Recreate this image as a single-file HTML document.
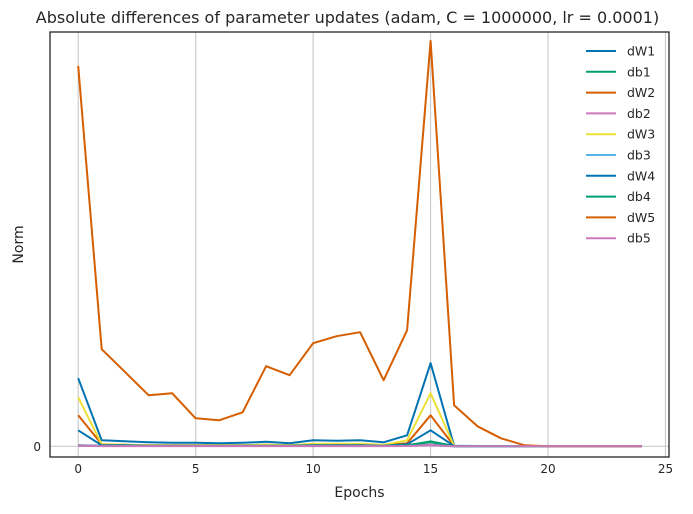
<!DOCTYPE html>
<html><head><meta charset="utf-8"><style>
body{margin:0;background:#fff;font-family:"DejaVu Sans","Liberation Sans",sans-serif}
</style></head><body>
<svg id="chart" width="693" height="510" xmlns="http://www.w3.org/2000/svg" font-family="DejaVu Sans, Liberation Sans, sans-serif"></svg>
<script>
const epochs=[0,1,2,3,4,5,6,7,8,9,10,11,12,13,14,15,16,17,18,19,20,21,22,23,24];
const seriesNames=["dW1","db1","dW2","db2","dW3","db3","dW4","db4","dW5","db5"];
const colors=["#0173b2","#029e73","#d55e00","#cc78bc","#ece133","#56b4e9","#0173b2","#029e73","#d55e00","#cc78bc"];
const dW1=[68,6,5,4,3.5,3.5,3,3.5,4.5,3,6,5.5,6,4,11,83,0.5,0.3,0,0,0,0,0,0,0];
const db1=[1,0.5,0.5,0.5,0.5,0.5,0.5,0.5,0.5,0.5,0.5,0.5,0.5,0.5,1,5,0.3,0,0,0,0,0,0,0,0];
const dW2=[31,2,1.5,1,1,1,1,1,1.5,1,2,2,2,1,3,31,0.3,0,0,0,0,0,0,0,0];
const db2=[1,0.3,0.3,0.3,0.3,0.3,0.3,0.3,0.3,0.3,0.3,0.3,0.3,0.3,0.5,1.5,0,0,0,0,0,0,0,0,0];
const dW3=[49,2,1.5,1,1,1,1,1,1.5,1,2.5,2.5,2.5,1.5,6,53,0.3,0,0,0,0,0,0,0,0];
const db3=[0.5,0.3,0.3,0.3,0.3,0.3,0.3,0.3,0.3,0.3,0.3,0.3,0.3,0.3,0.5,1,0,0,0,0,0,0,0,0,0];
const dW4=[16,1,1,0.5,0.5,0.5,0.5,0.5,0.5,0.5,1,1,1,0.5,2,16,0.2,0,0,0,0,0,0,0,0];
const db4=[0.5,0.3,0.3,0.3,0.3,0.3,0.3,0.3,0.3,0.3,0.3,0.3,0.3,0.3,1,4,0,0,0,0,0,0,0,0,0];
const dW5=[380,97,74,51,53,28,26,34,80,71,103,110,114,66,116,405,41,20,8,1,0,0,0,0,0];
const db5=[0.5,0.2,0.2,0.2,0.2,0.2,0.2,0.2,0.2,0.2,0.2,0.2,0.2,0.2,0.3,1,0,0,0,0,0,0,0,0,0];
const allSeries=[dW1,db1,dW2,db2,dW3,db3,dW4,db4,dW5,db5];
const xTicks=[0,5,10,15,20,25];
const yTicks=[0];

const L=50,R=669,T=32,B=457;
const xMin=-1.2,xMax=25.15,yMin=-10.7,yMax=414;
const xs=v=>L+(v-xMin)/(xMax-xMin)*(R-L);
const ys=v=>B-(v-yMin)/(yMax-yMin)*(B-T);
const svg=document.getElementById('chart');
const NS="http://www.w3.org/2000/svg";
function mk(tag,attrs,parent){const e=document.createElementNS(NS,tag);for(const k in attrs)e.setAttribute(k,attrs[k]);(parent||svg).appendChild(e);return e;}

xTicks.forEach(t=>{
  const g=mk('line',{x1:xs(t),x2:xs(t),y1:T,y2:B,stroke:'#cccccc','stroke-width':1.2});
  
  
  const tx=mk('text',{x:xs(t),y:B+16,'text-anchor':'middle','font-size':12,fill:'#262626'});
  tx.textContent=t;
  
  
});
yTicks.forEach(t=>{
  const g=mk('line',{x1:L,x2:R,y1:ys(t),y2:ys(t),stroke:'#cccccc','stroke-width':1.2});
  
  
  const tx=mk('text',{x:L-9,y:ys(t)+4.5,'text-anchor':'end','font-size':12,fill:'#262626'});
  tx.textContent=t;
  
  
});

allSeries.forEach((s,i)=>{
  const pts=s.map((v,j)=>xs(epochs[j]).toFixed(1)+','+ys(v).toFixed(1)).join(' ');
  const p=mk('polyline',{points:pts,fill:'none',stroke:colors[i],'stroke-width':2,'stroke-linejoin':'round'});
  
  
});

const frame=mk('rect',{x:L,y:T,width:R-L,height:B-T,fill:'none',stroke:'#262626','stroke-width':1.3});



seriesNames.forEach((n,i)=>{
  const y=51+i*20.8;
  const ln=mk('line',{x1:586,x2:616,y1:y,y2:y,stroke:colors[i],'stroke-width':2});
  
  
  const tx=mk('text',{x:627,y:y+4.5,'font-size':12.5,fill:'#262626'});
  tx.textContent=n;
  
  
});

const title=mk('text',{x:347.5,y:23,'text-anchor':'middle','font-size':16,fill:'#262626'});
title.textContent='Absolute differences of parameter updates (adam, C = 1000000, lr = 0.0001)';


const xl=mk('text',{x:(L+R)/2,y:497,'text-anchor':'middle','font-size':14,fill:'#262626'});
xl.textContent='Epochs';


const yl=mk('text',{x:23,y:(T+B)/2,'text-anchor':'middle','font-size':14,fill:'#262626',transform:'rotate(-90 23 '+(T+B)/2+')'});
yl.textContent='Norm';


</script>
</body></html>
